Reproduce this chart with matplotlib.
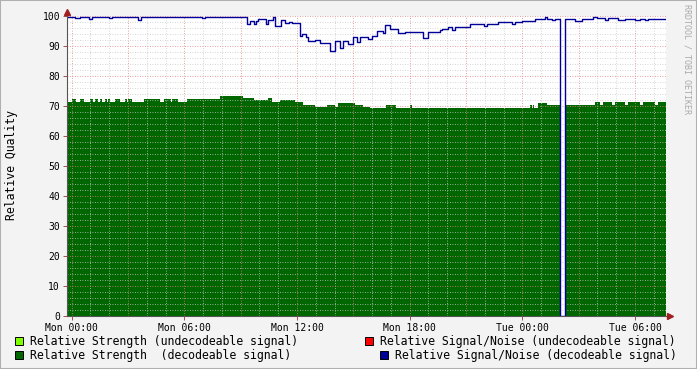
import matplotlib
matplotlib.use("Agg")
import matplotlib.pyplot as plt
from matplotlib.patches import Rectangle
import numpy as np

# hours since Mon 00:00 where a new value starts (step data)
sn_hours = [-0.25, 0.18, 0.44, 0.92, 1.08, 1.99, 2.15, 3.53, 3.69, 6.94, 7.10,
            9.33, 9.49, 9.71, 9.81, 9.92, 10.35, 10.45, 10.72, 10.82, 11.15,
            11.36, 11.57, 11.73, 12.16, 12.26, 12.48, 12.58, 12.96, 13.22, 13.76,
            14.02, 14.29, 14.45, 14.71, 14.98, 15.19, 15.35, 15.78, 15.99, 16.26,
            16.58, 16.68, 16.95, 17.37, 17.75, 18.01, 18.71, 18.97, 19.61, 19.72,
            20.04, 20.25, 20.41, 21.21, 21.64, 21.96, 22.12, 22.70, 23.45, 23.61,
            23.98, 24.67, 25.20, 25.31, 25.58, 25.74, 26.01, 26.25, 26.80, 27.17,
            27.76, 27.97, 28.40, 28.56, 29.09, 29.46, 29.99, 30.26, 30.52, 30.69]
sn_values = [99.8, 99.3, 99.8, 99.0, 99.8, 99.2, 99.8, 98.8, 99.8, 99.4, 99.8,
             97.2, 98.3, 97.5, 98.3, 99.1, 97.2, 98.7, 99.8, 96.7, 98.8,
             97.6, 98.0, 97.6, 93.3, 94.0, 93.0, 91.6, 92.0, 91.0, 88.4,
             91.6, 89.3, 91.6, 90.8, 92.9, 91.5, 92.9, 92.3, 93.4, 94.9,
             94.2, 97.1, 95.8, 94.3, 94.8, 94.6, 92.7, 94.8, 95.4, 95.6,
             96.2, 95.4, 96.2, 97.3, 97.2, 96.8, 97.2, 97.9, 97.5, 97.9,
             98.2, 99.1, 99.8, 99.1, 98.6, 99.0, 0.0, 99.0, 98.5, 99.0,
             99.8, 99.4, 98.6, 99.2, 98.6, 99.0, 98.8, 99.1, 98.6, 99.1]

st_hours = [-0.25, 0.02, 0.23, 0.44, 0.65, 0.97, 1.13, 1.24, 1.40, 1.50, 1.60,
            1.77, 1.88, 1.93, 2.04, 2.30, 2.57, 2.84, 2.94, 3.00, 3.20, 3.85,
            4.70, 4.90, 5.30, 5.35, 5.66, 6.14, 7.90, 9.12, 9.71, 10.45, 10.67,
            11.09, 11.89, 12.32, 12.96, 13.59, 14.02, 14.18, 15.08, 15.51, 15.88,
            16.74, 17.27, 18.01, 18.12, 24.40, 24.50, 24.56, 24.62, 24.83, 25.31,
            26.01, 26.25, 27.86, 28.13, 28.30, 28.77, 28.93, 29.46, 29.62, 30.26,
            30.42, 31.06, 31.22]
st_values = [71.3, 72.3, 71.3, 72.3, 71.3, 72.3, 71.3, 72.3, 71.3, 72.3, 71.3,
             72.3, 71.3, 72.3, 71.3, 72.3, 71.3, 72.3, 71.3, 72.3, 71.3, 72.3,
             71.3, 72.3, 71.3, 72.3, 71.3, 72.3, 73.3, 72.6, 72.0, 72.6, 71.4,
             72.0, 71.3, 70.3, 69.6, 70.3, 69.6, 71.0, 70.3, 69.6, 69.5,
             70.2, 69.5, 70.2, 69.5, 70.2, 69.5, 70.2, 69.5, 71.0, 70.3,
             0.0, 70.3, 71.3, 70.3, 71.3, 70.3, 71.3, 70.3, 71.3, 70.3,
             71.3, 70.3, 71.3]

end_hour = 31.65
tick_hours = [0, 6, 12, 18, 24, 30]
tick_labels = ["Mon 00:00", "Mon 06:00", "Mon 12:00", "Mon 18:00", "Tue 00:00", "Tue 06:00"]

legend_entries = [
    ("Relative Strength (undecodeable signal)", "#80FF00"),
    ("Relative Strength  (decodeable signal)", "#006600"),
    ("Relative Signal/Noise (undecodeable signal)", "#FF0000"),
    ("Relative Signal/Noise (decodeable signal)", "#000099"),
]

W, H = 697, 369
MONO = "DejaVu Sans Mono"

fig = plt.figure(figsize=(W / 100, H / 100), dpi=100, facecolor="#F3F3F3")
ax = fig.add_axes([67 / W, 1 - 316 / H, (666 - 67) / W, 300 / H])
ax.set_facecolor("white")

st_x = np.array(st_hours + [end_hour])
st_y = np.array(st_values + [st_values[-1]])
sn_x = np.array(sn_hours + [end_hour])
sn_y = np.array(sn_values + [sn_values[-1]])

ax.fill_between(st_x, 0, st_y, step="post", color="#006600", lw=0, zorder=1)
ax.step(sn_x, sn_y, where="post", color="#000099", lw=1.0, zorder=3)

ax.set_xlim(-0.25, end_hour)
ax.set_ylim(0, 100)

# grid drawn over the data, like rrdtool
for h in np.arange(0, 32, 1):
    c = "#E08080" if h % 3 == 0 else "#C8C8C8"
    ax.axvline(h, color=c, lw=0.6, ls=(0, (1, 2)), zorder=2)
for v in range(2, 100, 2):
    c = "#E08080" if v % 10 == 0 else "#C8C8C8"
    ax.axhline(v, color=c, lw=0.6, ls=(0, (1, 2)), zorder=2)
ax.axhline(100, color="#E08080", lw=0.6, ls=(0, (1, 2)), zorder=2, clip_on=False)

ax.set_xticks(tick_hours)
ax.set_xticklabels(tick_labels, fontsize=7, family=MONO)
ax.set_yticks(range(0, 101, 10))
ax.set_yticklabels([str(v) for v in range(0, 101, 10)], fontsize=7, family=MONO)
ax.tick_params(axis="both", length=3, width=0.6, color="#A03030", pad=2)

for side in ["top", "right"]:
    ax.spines[side].set_visible(False)
for side in ["left", "bottom"]:
    ax.spines[side].set_color("#555555")
    ax.spines[side].set_linewidth(0.8)
    ax.spines[side].set_zorder(4)

# axis arrows
ax.plot([-0.25], [101.5], marker="^", ms=4, color="#A02020", clip_on=False, zorder=5)
ax.plot([end_hour + 0.2], [0], marker=">", ms=4, color="#A02020", clip_on=False, zorder=5)

fig.text(12 / W, 1 - 165 / H, "Relative Quality", rotation=90, ha="center", va="center",
         fontsize=8.3, family=MONO)
fig.text(687 / W, 1 - 4 / H, "RRDTOOL / TOBI OETIKER", rotation=270, ha="center", va="top",
         fontsize=6, family=MONO, color="#AAAAAA")

# legend
legend_pos = [(15, 341), (15, 355), (365, 341), (380, 355)]
for (label, color), (lx, ly) in zip(legend_entries, legend_pos):
    fig.add_artist(Rectangle((lx / W, 1 - (ly + 4) / H), 8 / W, 8 / H,
                             transform=fig.transFigure, facecolor=color,
                             edgecolor="black", lw=0.7))
    fig.text((lx + 15) / W, 1 - ly / H, label, ha="left", va="center",
             fontsize=8.3, family=MONO)

# frame
fig.add_artist(Rectangle((0, 0), 1, 1, transform=fig.transFigure, fill=False,
                         edgecolor="#B0B0B0", lw=1.5))

fig.savefig("out.png", dpi=100, facecolor=fig.get_facecolor())
